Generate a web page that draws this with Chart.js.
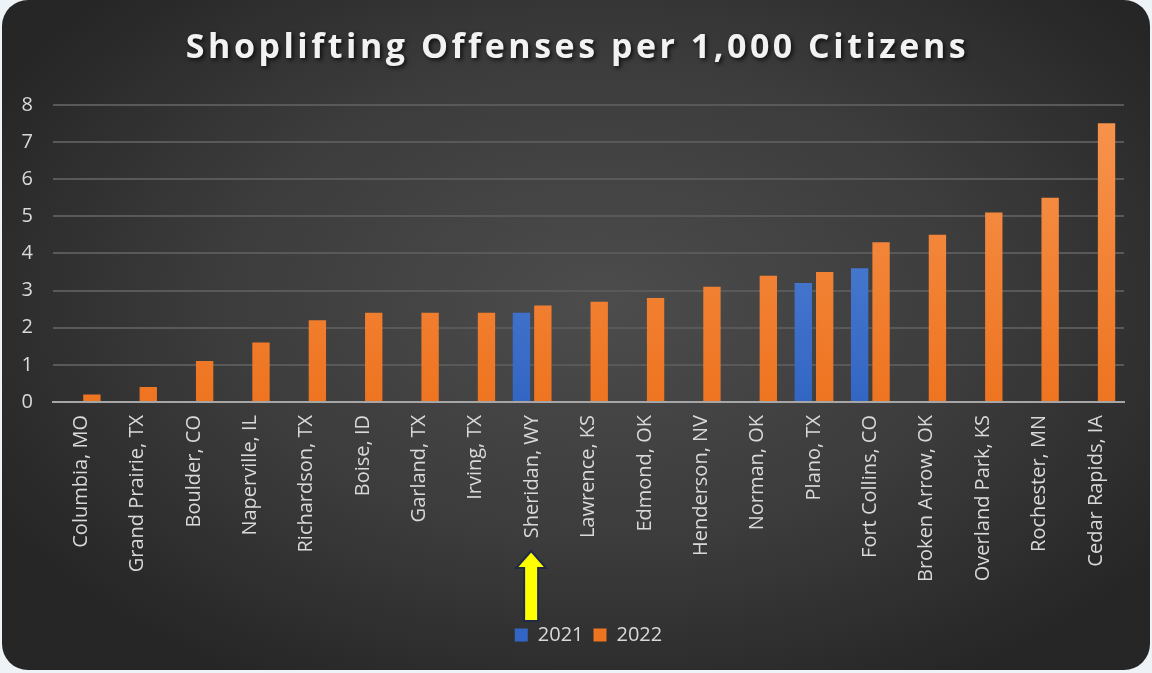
<!DOCTYPE html>
<html>
<head>
<meta charset="utf-8">
<script src="https://cdn.jsdelivr.net/npm/chart.js@4"></script>
<style>
  html, body { margin: 0; padding: 0; background: #eef3f8; }
  #card {
    position: absolute; left: 2px; top: 0px; width: 1148px; height: 670px;
    border-radius: 26px; overflow: hidden;
    background: radial-gradient(ellipse 60% 65% at 52% 45%, #4c4c4c 0%, #3c3c3c 55%, #262626 100%);
  }
  #wrap { position: absolute; left: 0; top: 0; width: 1152px; height: 673px; }
</style>
</head>
<body>
<div id="card"></div>
<div id="wrap"><canvas id="cvShoplifting"></canvas></div>
<script>
const cities = ["Columbia, MO", "Grand Prairie, TX", "Boulder, CO", "Naperville, IL", "Richardson, TX",
    "Boise, ID", "Garland, TX", "Irving, TX", "Sheridan, WY", "Lawrence, KS", "Edmond, OK",
    "Henderson, NV", "Norman, OK", "Plano, TX", "Fort Collins, CO", "Broken Arrow, OK",
    "Overland Park, KS", "Rochester, MN", "Cedar Rapids, IA"];
const rate2021 = [null, null, null, null, null, null, null, null, 2.4, null, null, null, null, 3.2, 3.6, null, null, null, null];
const rate2022 = [0.2, 0.4, 1.1, 1.6, 2.2, 2.4, 2.4, 2.4, 2.6, 2.7, 2.8, 3.1, 3.4, 3.5, 4.3, 4.5, 5.1, 5.5, 7.5];
const yTicks = [0, 1, 2, 3, 4, 5, 6, 7, 8];
const highlightCity = "Sheridan, WY";

const textColor = "#d9d9d9";
const fontFamily = "'Open Sans', sans-serif";

// vertical bar gradients, lighter at the top
const barFill = (top, bottom) => (context) => {
    const area = context.chart.chartArea;
    if (!area) return bottom;
    const g = context.chart.ctx.createLinearGradient(0, area.top, 0, area.bottom);
    g.addColorStop(0, top);
    g.addColorStop(1, bottom);
    return g;
};

// spaced-out title with a drop shadow, centred on the card
const titleStylePlugin = {
    id: "titleStylePlugin",
    afterLayout(chart) {
        const t = chart.titleBlock;
        if (!t || t._styled) return;
        const orig = t.draw.bind(t);
        t.draw = function () {
            const c = chart.ctx;
            c.save();
            c.translate(14, 0);
            c.letterSpacing = "3.5px";
            c.shadowColor = "rgba(0, 0, 0, 0.75)";
            c.shadowBlur = 4;
            c.shadowOffsetX = 2;
            c.shadowOffsetY = 2;
            orig();
            c.restore();
        };
        t._styled = true;
    }
};

// yellow arrow pointing up at the highlighted city's label
const arrowPlugin = {
    id: "arrowPlugin",
    afterDraw(chart) {
        const xs = chart.scales.x;
        const idx = cities.indexOf(highlightCity);
        const cx = xs.getPixelForValue(idx) - 1;
        const tipY = 551, baseY = 621, headH = 17, headW = 15, shaftW = 7;
        const ctx = chart.ctx;
        ctx.save();
        ctx.beginPath();
        ctx.moveTo(cx, tipY);
        ctx.lineTo(cx + headW, tipY + headH);
        ctx.lineTo(cx + shaftW, tipY + headH);
        ctx.lineTo(cx + shaftW, baseY);
        ctx.lineTo(cx - shaftW, baseY);
        ctx.lineTo(cx - shaftW, tipY + headH);
        ctx.lineTo(cx - headW, tipY + headH);
        ctx.closePath();
        ctx.fillStyle = "#ffff00";
        ctx.fill();
        ctx.lineWidth = 2;
        ctx.strokeStyle = "#1f2a44";
        ctx.stroke();
        ctx.restore();
    }
};

const ctx = document.getElementById("cvShoplifting").getContext("2d");
const data = {
    labels: cities,
    datasets: [{
        label: "2021",
        data: rate2021,
        backgroundColor: barFill("#5b8ad8", "#3366c4"),
        categoryPercentage: 0.76,
        barPercentage: 0.81
    }, {
        label: "2022",
        data: rate2022,
        backgroundColor: barFill("#f7944f", "#ee7420"),
        categoryPercentage: 0.76,
        barPercentage: 0.81
    }]
};

const myChart = new Chart(ctx, {
    type: "bar",
    data: data,
    plugins: [titleStylePlugin, arrowPlugin],
    options: {
        responsive: true,
        maintainAspectRatio: false,
        animation: false,
        layout: { padding: { left: 3, right: 28, top: 28, bottom: 18 } },
        scales: {
            x: {
                grid: { display: false, drawTicks: false },
                border: { color: "#a6a6a6", width: 2 },
                afterFit: (scale) => { scale.height += 20; },
                ticks: {
                    color: textColor,
                    font: { family: fontFamily, size: 20 },
                    maxRotation: 90,
                    minRotation: 90,
                    autoSkip: false,
                    padding: 13
                }
            },
            y: {
                min: 0,
                max: 8,
                afterBuildTicks: (axis) => { axis.ticks = yTicks.map(v => ({ value: v })); },
                afterFit: (scale) => { scale.width = 50; },
                grid: { color: "#595959", lineWidth: 2, drawTicks: false },
                border: { display: false },
                ticks: {
                    color: textColor,
                    font: { family: fontFamily, size: 20 },
                    padding: 20
                }
            }
        },
        plugins: {
            title: {
                display: true,
                text: "Shoplifting Offenses per 1,000 Citizens",
                color: "#f2f2f2",
                font: { family: fontFamily, size: 34, weight: "bold" },
                padding: { top: 0, bottom: 36 }
            },
            legend: {
                position: "bottom",
                fullSize: false,
                labels: {
                    color: textColor,
                    font: { family: fontFamily, size: 20 },
                    boxWidth: 13,
                    boxHeight: 13,
                    padding: 10
                }
            },
            tooltip: { enabled: false }
        }
    }
});
</script>
</body>
</html>
